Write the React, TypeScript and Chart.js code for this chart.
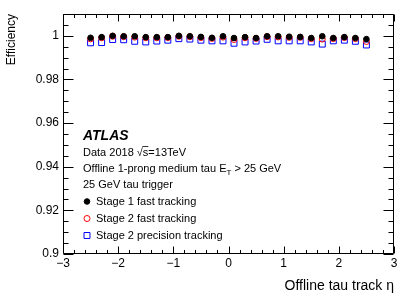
import React, { useEffect, useRef } from 'react';
import { Chart, registerables } from 'chart.js';

Chart.register(...registerables);

const FONT = '"Liberation Sans", Arial, Helvetica, sans-serif';

// ---- data ----
const etaBins = [-2.5, -2.3, -2.1, -1.9, -1.7, -1.5, -1.3, -1.1, -0.9, -0.7, -0.5, -0.3, -0.1, 0.1, 0.3, 0.5, 0.7, 0.9, 1.1, 1.3, 1.5, 1.7, 1.9, 2.1, 2.3, 2.5];
const stage1Fast = [0.9991, 0.9994, 1.0, 0.9998, 0.9998, 0.9994, 0.9994, 0.9994, 1.0, 0.9998, 0.9995, 0.9991, 0.9998, 0.999, 0.9994, 0.999, 0.9998, 0.9998, 0.9996, 0.9995, 0.999, 0.9998, 0.999, 0.9994, 0.999, 0.9985];
const stage2Fast = [0.9986, 0.9991, 0.9998, 0.9996, 0.9994, 0.9991, 0.9991, 0.9992, 0.9998, 0.9996, 0.9992, 0.9988, 0.9994, 0.9983, 0.9991, 0.9988, 0.9996, 0.9995, 0.9993, 0.9993, 0.9987, 0.9985, 0.9987, 0.9992, 0.9987, 0.9974];
const stage2Precision = [0.9968, 0.9969, 0.9983, 0.9982, 0.9975, 0.9972, 0.9976, 0.998, 0.9987, 0.9985, 0.998, 0.9977, 0.9977, 0.9966, 0.9972, 0.9976, 0.9984, 0.9977, 0.9977, 0.9977, 0.9972, 0.9962, 0.9977, 0.998, 0.9975, 0.9958];

const seriesLabels = ['Stage 1 fast tracking', 'Stage 2 fast tracking', 'Stage 2 precision tracking'];

const xTickValues = [-3, -2, -1, 0, 1, 2, 3];
const yTickValues = [0.9, 0.92, 0.94, 0.96, 0.98, 1];
const xRange = [-3, 3];
const yRange = [0.9, 1.01];
const xMinorStep = 0.2;
const yMinorStep = 0.005;

const xTitle = 'Offline tau track η';
const yTitle = 'Efficiency';
const atlasLabel = 'ATLAS';
const dataLabelPre = 'Data 2018 ';
const dataLabelPost = '=13TeV';
const selectionPre = 'Offline 1-prong medium tau E';
const selectionSub = 'T';
const selectionPost = ' > 25 GeV';
const triggerLabel = '25 GeV tau trigger';

const frameTicks = {
  id: 'frameTicks',
  afterDraw(chart: any) {
    const { ctx, chartArea, scales } = chart;
    const { left, right, top, bottom } = chartArea;
    const x = scales.x;
    const y = scales.y;
    ctx.save();
    ctx.strokeStyle = '#000';
    ctx.lineWidth = 1;
    const L = Math.round(left) + 0.5;
    const R = Math.round(right) - 0.5;
    const T = Math.round(top) + 0.5;
    const B = Math.round(bottom) - 0.5;
    ctx.beginPath();
    ctx.rect(L, T, R - L, B - T);
    ctx.stroke();
    ctx.beginPath();
    const nx = Math.round((xRange[1] - xRange[0]) / xMinorStep);
    for (let i = 0; i <= nx; i++) {
      const v = xRange[0] + i * xMinorStep;
      const major = Math.abs(v - Math.round(v)) < 1e-6;
      const len = major ? 7 : 3.5;
      const px = Math.round(x.getPixelForValue(v)) + 0.5;
      ctx.moveTo(px, B); ctx.lineTo(px, B - len);
      ctx.moveTo(px, T); ctx.lineTo(px, T + len);
    }
    const ny = Math.round((yRange[1] - yRange[0]) / yMinorStep);
    for (let i = 0; i <= ny; i++) {
      const v = yRange[0] + i * yMinorStep;
      const major = i % 4 === 0;
      const len = major ? 10 : 5;
      const py = Math.round(y.getPixelForValue(v)) + 0.5;
      ctx.moveTo(L, py); ctx.lineTo(L + len, py);
      ctx.moveTo(R, py); ctx.lineTo(R - len, py);
    }
    ctx.stroke();
    ctx.restore();
  },
};

const annotate = {
  id: 'annotate',
  afterDatasetsDraw(chart: any) {
    const { ctx, chartArea } = chart;
    const { left, top } = chartArea;
    const tx = left + 20;
    ctx.save();
    ctx.fillStyle = '#000';
    ctx.textBaseline = 'middle';
    ctx.textAlign = 'left';
    ctx.font = `italic bold 14px ${FONT}`;
    ctx.fillText(atlasLabel, tx, top + 122);

    ctx.font = `11px ${FONT}`;
    // Data line with sqrt(s)
    let cx = tx;
    const y1 = top + 139;
    ctx.fillText(dataLabelPre, cx, y1);
    cx += ctx.measureText(dataLabelPre).width;
    ctx.fillText('√', cx, y1);
    cx += ctx.measureText('√').width;
    const sw = ctx.measureText('s').width;
    ctx.fillText('s', cx, y1);
    ctx.beginPath();
    ctx.lineWidth = 0.8;
    ctx.strokeStyle = '#000';
    ctx.moveTo(cx - 0.5, y1 - 6.5);
    ctx.lineTo(cx + sw, y1 - 6.5);
    ctx.stroke();
    cx += sw;
    ctx.fillText(dataLabelPost, cx, y1);

    // selection line with subscript
    const y2 = top + 155;
    cx = tx;
    ctx.fillText(selectionPre, cx, y2);
    cx += ctx.measureText(selectionPre).width;
    ctx.font = `8px ${FONT}`;
    ctx.fillText(selectionSub, cx, y2 + 3.5);
    cx += ctx.measureText(selectionSub).width;
    ctx.font = `11px ${FONT}`;
    ctx.fillText(selectionPost, cx, y2);

    ctx.fillText(triggerLabel, tx, top + 171);

    // legend
    const ds = chart.data.datasets;
    const rows = [top + 187.5, top + 204.5, top + 221.5];
    ds.forEach((d: any, i: number) => {
      const my = rows[i];
      const mx = left + 24;
      ctx.beginPath();
      ctx.lineWidth = d.borderWidth || 1;
      ctx.strokeStyle = d.borderColor;
      ctx.fillStyle = d.backgroundColor;
      if (d.pointStyle === 'rect') {
        const s = Math.SQRT1_2 * d.pointRadius;
        ctx.rect(mx - s, my - s, 2 * s, 2 * s);
      } else {
        ctx.arc(mx, my, d.pointRadius, 0, Math.PI * 2);
      }
      ctx.fill();
      ctx.stroke();
      ctx.fillStyle = '#000';
      ctx.fillText(d.label, left + 33, my);
    });
    ctx.restore();
  },
};

function fmtY(v: number) {
  return String(Number(v.toFixed(3)));
}

export default function App() {
  const ref = useRef<HTMLCanvasElement>(null);
  useEffect(() => {
    if (!ref.current) return;
    const mk = (ys: number[]) => etaBins.map((e, i) => ({ x: e, y: ys[i] }));
    const chart = new Chart(ref.current, {
      type: 'scatter',
      data: {
        datasets: [
          {
            label: seriesLabels[0],
            data: mk(stage1Fast),
            pointStyle: 'circle',
            pointRadius: 2.8,
            backgroundColor: '#000',
            borderColor: '#000',
            borderWidth: 1,
          },
          {
            label: seriesLabels[1],
            data: mk(stage2Fast),
            pointStyle: 'circle',
            pointRadius: 3,
            backgroundColor: 'rgba(0,0,0,0)',
            borderColor: '#ff0000',
            borderWidth: 1,
          },
          {
            label: seriesLabels[2],
            data: mk(stage2Precision),
            pointStyle: 'rect',
            pointRadius: 4.2,
            backgroundColor: 'rgba(0,0,0,0)',
            borderColor: '#0000ff',
            borderWidth: 1,
          },
        ] as any,
      },
      options: {
        animation: false,
        responsive: false,
        events: [],
        layout: { padding: { left: 0, right: 21, top: 14, bottom: 0 } },
        plugins: { legend: { display: false }, tooltip: { enabled: false } },
        scales: {
          x: {
            type: 'linear',
            min: xRange[0],
            max: xRange[1],
            afterBuildTicks: (axis: any) => {
              axis.ticks = xTickValues.map((v) => ({ value: v }));
            },
            afterFit: (axis: any) => {
              axis.height = 44;
            },
            grid: { display: false, drawTicks: false },
            border: { display: false },
            ticks: {
              color: '#000',
              font: { size: 12, family: FONT },
              padding: 2,
              maxRotation: 0,
              autoSkip: false,
              callback: (v: any) => String(v).replace('-', '\u2212'),
            },
            title: {
              display: true,
              text: xTitle,
              align: 'end',
              color: '#000',
              font: { size: 14, family: FONT },
              padding: { top: 0, bottom: 3 },
            },
          },
          y: {
            type: 'linear',
            min: yRange[0],
            max: yRange[1],
            afterBuildTicks: (axis: any) => {
              axis.ticks = yTickValues.map((v) => ({ value: v }));
            },
            afterFit: (axis: any) => {
              axis.width = 63;
            },
            grid: { display: false, drawTicks: false },
            border: { display: false },
            ticks: {
              color: '#000',
              font: { size: 12, family: FONT },
              padding: 4,
              autoSkip: false,
              callback: (v: any) => fmtY(Number(v)),
            },
            title: {
              display: true,
              text: yTitle,
              align: 'end',
              color: '#000',
              font: { size: 12, family: FONT },
              padding: { top: 4, bottom: 0 },
            },
          },
        },
      } as any,
      plugins: [frameTicks, annotate],
    });
    return () => chart.destroy();
  }, []);
  return (
    <div style={{ position: 'absolute', left: 0, top: 0, width: 415, height: 298, background: '#fff' }}>
      <canvas ref={ref} width={415} height={298} style={{ display: 'block' }} />
    </div>
  );
}
